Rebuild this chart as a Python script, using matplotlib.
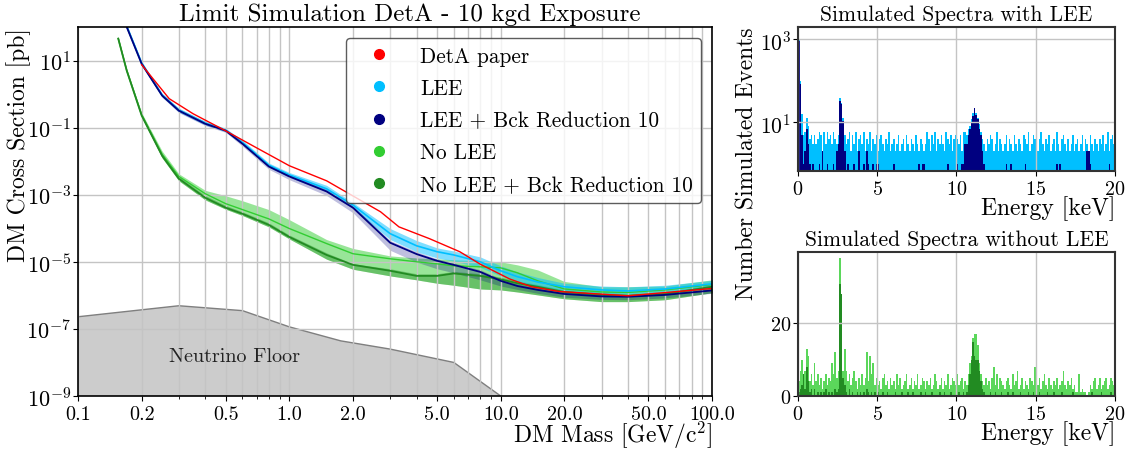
import numpy as np
import matplotlib
matplotlib.use('Agg')
import matplotlib.pyplot as plt
from matplotlib.ticker import FixedLocator, NullLocator, FuncFormatter, NullFormatter, LogLocator
from matplotlib.lines import Line2D

plt.rcParams['font.family'] = ['cmr10']
plt.rcParams['mathtext.fontset'] = 'cm'
plt.rcParams['axes.formatter.use_mathtext'] = True

# ---------------- Limit curves (DM mass in GeV/c^2, cross-section in pb) ----------------
mass = [0.155, 0.17, 0.2, 0.25, 0.3, 0.4, 0.5, 0.6, 0.8, 1.0, 1.5, 2.0, 3.0, 4.0, 5.0,
        6.0, 8.0, 10, 12, 15, 20, 30, 40, 60, 100]

lee = [620, 105, 8.3, 0.93, 0.33, 0.135, 0.084, 0.036, 0.0076, 0.0039, 0.0015, 4.9e-4,
       6.9e-5, 3.0e-5, 2.0e-5, 1.6e-5, 1.0e-5, 5.4e-6, 3.6e-6, 2.5e-6, 1.8e-6, 1.45e-6,
       1.35e-6, 1.55e-6, 2.2e-6]
lee_hi = [720, 120, 9.5, 1.05, 0.38, 0.155, 0.095, 0.042, 0.0088, 0.0046, 1.9e-3, 5.8e-4,
          9.8e-5, 4.3e-5, 2.6e-5, 2.1e-5, 1.4e-5, 7.6e-6, 5.0e-6, 3.4e-6, 2.3e-6, 1.9e-6,
          1.8e-6, 2.0e-6, 2.8e-6]
lee_lo = [540, 92, 7.3, 0.83, 0.29, 0.12, 0.075, 0.031, 0.0066, 0.0033, 1.25e-3, 3.9e-4,
          4.6e-5, 2.0e-5, 1.3e-5, 1.05e-5, 6.8e-6, 3.8e-6, 2.6e-6, 1.85e-6, 1.4e-6, 1.15e-6,
          1.1e-6, 1.25e-6, 1.75e-6]

lee_bck = [600, 100, 8.0, 0.9, 0.32, 0.13, 0.081, 0.033, 0.0069, 0.0035, 0.00125, 4.1e-4,
           3.7e-5, 1.7e-5, 1.07e-5, 8.1e-6, 5.0e-6, 2.7e-6, 1.9e-6, 1.45e-6, 1.1e-6, 9.3e-7,
           9.1e-7, 1.03e-6, 1.4e-6]
lee_bck_hi = [690, 115, 9.2, 1.03, 0.37, 0.15, 0.093, 0.038, 0.0079, 0.004, 1.45e-3, 4.7e-4,
              4.3e-5, 2.0e-5, 1.23e-5, 9.3e-6, 5.8e-6, 3.1e-6, 2.2e-6, 1.67e-6, 1.27e-6,
              1.07e-6, 1.05e-6, 1.18e-6, 1.6e-6]
lee_bck_lo = [500, 85, 7.0, 0.8, 0.28, 0.115, 0.072, 0.028, 0.0057, 0.0028, 9.5e-4, 2.9e-4,
              2.2e-5, 9.8e-6, 6.2e-6, 4.7e-6, 2.9e-6, 1.9e-6, 1.5e-6, 1.15e-6, 8.8e-7,
              7.6e-7, 7.4e-7, 8.4e-7, 1.15e-6]

nolee = [45, 5.0, 0.24, 0.016, 0.0035, 1.07e-3, 5.4e-4, 3.6e-4, 1.9e-4, 9.8e-5, 3.5e-5,
         1.74e-5, 1.23e-5, 1.0e-5, 8.7e-6, 7.6e-6, 7.1e-6, 6.6e-6, 4.7e-6, 2.7e-6, 1.55e-6,
         1.26e-6, 1.22e-6, 1.45e-6, 2.1e-6]
nolee_hi = [50, 5.6, 0.28, 0.02, 0.0042, 1.35e-3, 9.3e-4, 6.6e-4, 3.6e-4, 1.8e-4, 4.6e-5,
            2.5e-5, 1.5e-5, 1.3e-5, 1.23e-5, 1.15e-5, 1.07e-5, 1.0e-5, 8.1e-6, 5.7e-6,
            2.6e-6, 1.8e-6, 1.8e-6, 1.9e-6, 2.9e-6]
nolee_lo = [40, 4.4, 0.2, 0.0125, 0.0026, 7.0e-4, 3.7e-4, 2.4e-4, 1.1e-4, 4.8e-5, 1.2e-5,
            6.0e-6, 3.8e-6, 2.9e-6, 2.3e-6, 2.0e-6, 1.55e-6, 1.45e-6, 1.26e-6, 1.03e-6,
            7.9e-7, 6.5e-7, 6.5e-7, 7.4e-7, 1.2e-6]

nolee_bck = [45, 5.0, 0.23, 0.0145, 0.003, 8.1e-4, 4.1e-4, 2.7e-4, 1.26e-4, 5.5e-5, 1.6e-5,
             8.1e-6, 5.4e-6, 3.8e-6, 3.8e-6, 4.5e-6, 3.8e-6, 3.0e-6, 2.3e-6, 1.8e-6, 1.26e-6,
             1.03e-6, 9.7e-7, 1.1e-6, 1.8e-6]
nolee_bck_hi = [52, 5.8, 0.26, 0.017, 0.0035, 9.5e-4, 4.8e-4, 3.1e-4, 1.45e-4, 6.3e-5,
                1.85e-5, 8.8e-6, 6.2e-6, 4.4e-6, 4.4e-6, 5.2e-6, 4.4e-6, 3.5e-6, 2.7e-6,
                2.1e-6, 1.45e-6, 1.2e-6, 1.12e-6, 1.27e-6, 2.1e-6]
nolee_bck_lo = nolee_lo

paper_mass = [0.2, 0.27, 0.35, 0.5, 0.67, 1.0, 1.5, 2.7, 3.3, 4.6, 6.4, 8.0, 11, 14, 19, 40, 100]
paper_xs = [7.5, 0.73, 0.26, 0.08, 0.029, 0.0073, 0.0026, 3.1e-4, 1.1e-4, 4.9e-5, 2.0e-5,
            8.5e-6, 3.1e-6, 1.8e-6, 1.3e-6, 9.7e-7, 1.6e-6]

nu_mass = [0.1, 0.3, 0.6, 1.0, 1.75, 3.0, 6.0, 10.0]
nu_xs = [2.3e-7, 4.9e-7, 3.5e-7, 1.15e-7, 4.4e-8, 2.5e-8, 1.0e-8, 1.0e-9]

legend_labels = ['DetA paper', 'LEE', 'LEE + Bck Reduction 10', 'No LEE',
                 'No LEE + Bck Reduction 10']
legend_colors = ['red', 'deepskyblue', 'navy', 'limegreen', 'forestgreen']

x_ticks = [0.1, 0.2, 0.5, 1.0, 2.0, 5.0, 10.0, 20.0, 50.0, 100.0]
y_ticks = [1e-9, 1e-7, 1e-5, 1e-3, 1e-1, 1e1]

# ---------------- Simulated spectra (0.1 keV bins, 0-20 keV) ----------------
bin_width = 0.1
spec_lee_all = [
    950, 100, 16, 5, 6, 13, 8, 4, 5, 3,
    5, 3, 4, 6, 5, 2, 6, 3, 6, 4,
    5, 3, 6, 4, 3, 5, 38, 30, 13, 5,
    3, 4, 6, 2, 5, 3, 6, 2, 4, 5,
    3, 6, 2, 4, 3, 6, 2, 4, 3, 5,
    2, 4, 5, 3, 2, 4, 3, 6, 2, 3,
    4, 2, 3, 5, 2, 3, 4, 2, 5, 3,
    2, 4, 3, 2, 5, 3, 2, 4, 3, 2,
    3, 6, 4, 2, 5, 3, 6, 2, 4, 3,
    5, 3, 2, 6, 4, 3, 5, 2, 4, 5,
    4, 3, 5, 2, 6, 6, 5, 7, 8, 12,
    17, 20, 17, 13, 9, 6, 4, 3, 2, 4,
    3, 5, 4, 2, 3, 6, 2, 4, 3, 2,
    3, 5, 2, 4, 3, 2, 5, 3, 2, 4,
    3, 2, 5, 4, 3, 6, 2, 3, 5, 4,
    3, 2, 4, 6, 3, 2, 4, 3, 5, 2,
    3, 4, 2, 6, 3, 2, 4, 5, 3, 2,
    4, 2, 3, 5, 2, 3, 4, 2, 3, 5,
    2, 4, 3, 2, 5, 3, 2, 4, 3, 2,
    4, 3, 5, 2, 3, 6, 2, 4, 5, 3]
spec_lee_bck = [
    900, 85, 5, 1, 2, 7, 3, 1, 0, 1,
    0, 0, 0, 1, 0, 2, 0, 0, 1, 0,
    0, 0, 1, 0, 2, 3, 32, 28, 11, 2,
    0, 1, 0, 0, 0, 1, 0, 0, 2, 0,
    0, 1, 0, 2, 1, 0, 0, 1, 0, 1,
    1, 0, 0, 0, 0, 0, 0, 0, 0, 0,
    1, 0, 0, 0, 0, 0, 0, 0, 0, 0,
    0, 0, 0, 0, 0, 0, 1, 0, 1, 1,
    0, 0, 0, 0, 0, 0, 0, 0, 0, 0,
    0, 0, 0, 0, 1, 0, 0, 0, 0, 0,
    1, 0, 0, 1, 1, 3, 3, 5, 7, 10,
    14, 22, 15, 12, 7, 5, 2, 1, 0, 0,
    0, 0, 0, 0, 0, 0, 0, 0, 0, 0,
    0, 1, 0, 0, 1, 0, 0, 0, 0, 0,
    0, 0, 0, 1, 0, 0, 0, 0, 0, 0,
    0, 0, 0, 0, 0, 0, 0, 0, 0, 0,
    0, 0, 0, 1, 0, 1, 0, 0, 0, 0,
    0, 0, 0, 0, 0, 0, 0, 0, 0, 0,
    0, 0, 2, 2, 1, 0, 0, 0, 0, 0,
    0, 0, 0, 0, 0, 0, 1, 0, 0, 0]
spec_nolee_all = [
    4, 7, 10, 5, 7, 13, 11, 4, 6, 3,
    9, 4, 6, 3, 5, 2, 4, 6, 3, 5,
    4, 9, 6, 12, 5, 7, 38, 28, 7, 13,
    7, 4, 6, 3, 5, 7, 4, 2, 5, 3,
    6, 3, 5, 12, 4, 11, 6, 9, 3, 5,
    3, 4, 2, 5, 6, 3, 4, 2, 5, 3,
    4, 2, 6, 3, 5, 2, 3, 4, 6, 2,
    3, 5, 2, 4, 3, 6, 2, 3, 5, 4,
    2, 4, 3, 5, 2, 3, 6, 4, 2, 3,
    5, 2, 4, 3, 6, 2, 3, 5, 4, 3,
    6, 3, 4, 5, 2, 4, 3, 6, 9, 11,
    16, 17, 17, 14, 9, 6, 4, 3, 5, 3,
    4, 2, 5, 8, 3, 6, 2, 5, 4, 3,
    2, 4, 5, 3, 2, 6, 3, 4, 7, 2,
    3, 5, 2, 4, 3, 2, 5, 4, 3, 8,
    8, 3, 5, 2, 4, 6, 3, 2, 5, 3,
    2, 4, 3, 5, 2, 3, 4, 7, 3, 2,
    4, 3, 5, 2, 3, 1, 1, 6, 1, 2,
    1, 1, 0, 1, 3, 2, 4, 5, 2, 3,
    5, 2, 3, 4, 5, 2, 3, 5, 4, 3]
spec_nolee_bck = [
    1, 2, 3, 6, 2, 8, 4, 1, 2, 0,
    2, 0, 1, 0, 1, 0, 1, 2, 0, 1,
    0, 1, 0, 2, 1, 2, 31, 28, 5, 3,
    1, 0, 2, 0, 1, 0, 0, 1, 0, 1,
    0, 1, 0, 2, 1, 0, 1, 0, 1, 0,
    1, 0, 0, 1, 0, 0, 1, 0, 0, 0,
    0, 1, 0, 0, 0, 1, 0, 0, 0, 1,
    0, 0, 1, 0, 0, 0, 0, 1, 0, 0,
    1, 0, 0, 0, 1, 0, 0, 0, 0, 1,
    0, 0, 1, 0, 0, 0, 1, 0, 0, 0,
    0, 1, 0, 0, 1, 0, 1, 3, 6, 10,
    15, 11, 10, 10, 7, 4, 2, 1, 0, 0,
    0, 1, 0, 0, 1, 0, 0, 0, 1, 0,
    0, 0, 1, 0, 0, 1, 0, 0, 0, 0,
    1, 0, 0, 0, 0, 1, 0, 0, 1, 0,
    0, 0, 1, 0, 0, 0, 0, 1, 0, 0,
    0, 1, 0, 0, 0, 0, 1, 0, 0, 0,
    0, 0, 0, 1, 0, 0, 0, 0, 0, 0,
    0, 0, 0, 0, 0, 1, 0, 0, 0, 0,
    0, 1, 0, 0, 0, 0, 0, 1, 0, 0]

MAIN_TITLE_FS = 18
SIDE_TITLE_FS = 15.5
LABEL_FS = 17
XTICK_FS = 14.5
YTICK_FS = 16
GRID_C = '#c4c4c4'

fig = plt.figure(figsize=(11.34, 4.52), dpi=100)

# ---------------- main limit plot ----------------
ax = fig.add_axes([0.0688, 0.1217, 0.5591, 0.8164])
ax.set_xscale('log')
ax.set_yscale('log')

ax.fill_between(nu_mass, 1e-10, nu_xs, facecolor='#cccccc', edgecolor='none', zorder=1)
ax.plot(nu_mass, nu_xs, color='#7f7f7f', lw=1, zorder=1.2)
ax.text(0.55, 1.5e-8, 'Neutrino Floor', fontsize=14.5, ha='center', va='center',
        color='#222222', zorder=3)

ax.fill_between(mass, nolee_lo, nolee_hi, color='limegreen', alpha=0.5, lw=0, zorder=1)
ax.fill_between(mass, nolee_bck_lo, nolee_bck_hi, color='forestgreen', alpha=0.4, lw=0, zorder=1)
ax.fill_between(mass, lee_lo, lee_hi, color='deepskyblue', alpha=0.5, lw=0, zorder=1)
ax.fill_between(mass, lee_bck_lo, lee_bck_hi, color='navy', alpha=0.25, lw=0, zorder=1)

ax.plot(mass, nolee, color='limegreen', lw=1.0, zorder=2)
ax.plot(mass, nolee_bck, color='forestgreen', lw=1.3, zorder=2)
ax.plot(mass, lee, color='deepskyblue', lw=1.2, zorder=2)
ax.plot(mass, lee_bck, color='navy', lw=1.3, zorder=2)
ax.plot(paper_mass, paper_xs, color='red', lw=1.0, zorder=2.1)

ax.set_xlim(0.1, 100)
ax.set_ylim(1e-9, 1e2)
ax.xaxis.set_major_locator(FixedLocator(x_ticks))
ax.xaxis.set_major_formatter(FuncFormatter(lambda v, p: f'{v:.1f}'))
ax.xaxis.set_minor_locator(LogLocator(base=10, subs=(3, 4, 6, 7, 8, 9)))
ax.xaxis.set_minor_formatter(NullFormatter())
ax.yaxis.set_major_locator(FixedLocator(y_ticks))
ax.yaxis.set_minor_locator(NullLocator())
ax.tick_params(axis='x', labelsize=XTICK_FS, pad=3)
ax.tick_params(axis='y', labelsize=YTICK_FS, pad=1.5)
ax.tick_params(which='minor', length=2)
ax.grid(True, which='both', axis='x', color=GRID_C, lw=1)
ax.grid(True, which='major', axis='y', color=GRID_C, lw=1)
for s in ax.spines.values():
    s.set_linewidth(1.2)

ax.set_title('Limit Simulation DetA - 10 kgd Exposure', fontsize=MAIN_TITLE_FS, pad=5, x=0.523)
ax.set_xlabel('DM Mass [GeV/c$^2$]', fontsize=LABEL_FS, loc='right', labelpad=-3)
ax.set_ylabel('DM Cross Section [pb]', fontsize=LABEL_FS, loc='top')
ax.yaxis.set_label_coords(-0.074, 1.0)

handles = [Line2D([], [], ls='none', marker='o', ms=7, color=c) for c in legend_colors]
leg = ax.legend(handles, legend_labels, loc='upper right', fontsize=15.3, handlelength=2.3,
                handletextpad=0.8, labelspacing=0.6, fancybox=True, framealpha=0.8,
                edgecolor='#333333')
leg.get_frame().set_linewidth(1.0)

# ---------------- spectra ----------------
edges = np.arange(len(spec_lee_all)) * bin_width

ax1 = fig.add_axes([0.7037, 0.6195, 0.2795, 0.3186])
ax1.bar(edges, spec_lee_all, width=bin_width, align='edge', color='deepskyblue', lw=0)
ax1.bar(edges, spec_lee_bck, width=bin_width, align='edge', color='navy', lw=0)
ax1.set_yscale('log')
ax1.set_xlim(0, 20)
ax1.set_ylim(0.67, 2000)
ax1.yaxis.set_major_locator(FixedLocator([10, 1000]))
ax1.yaxis.set_minor_locator(NullLocator())
ax1.xaxis.set_major_locator(FixedLocator([0, 5, 10, 15, 20]))
ax1.tick_params(axis='x', labelsize=XTICK_FS, pad=3)
ax1.tick_params(axis='y', labelsize=15.5, pad=1.5)
ax1.grid(True, color=GRID_C, lw=1)
ax1.set_title('Simulated Spectra with LEE', fontsize=SIDE_TITLE_FS, pad=5)
ax1.set_xlabel('Energy [keV]', fontsize=LABEL_FS, loc='right', labelpad=-2)
ax1.set_ylabel('Number Simulated Events', fontsize=LABEL_FS, loc='top')
ax1.yaxis.set_label_coords(-0.125, 1.0)

ax2 = fig.add_axes([0.7037, 0.1217, 0.2795, 0.3186])
ax2.bar(edges, spec_nolee_all, width=bin_width, align='edge', color='limegreen', alpha=0.8, lw=0)
ax2.bar(edges, spec_nolee_bck, width=bin_width, align='edge', color='forestgreen', lw=0)
ax2.set_xlim(0, 20)
ax2.set_ylim(0, 39.7)
ax2.yaxis.set_major_locator(FixedLocator([0, 20]))
ax2.xaxis.set_major_locator(FixedLocator([0, 5, 10, 15, 20]))
ax2.tick_params(axis='x', labelsize=XTICK_FS, pad=3)
ax2.tick_params(axis='y', labelsize=XTICK_FS, pad=1.5)
ax2.grid(True, color=GRID_C, lw=1)
ax2.set_title('Simulated Spectra without LEE', fontsize=SIDE_TITLE_FS, pad=5)
ax2.set_xlabel('Energy [keV]', fontsize=LABEL_FS, loc='right', labelpad=-2)

for a in (ax1, ax2):
    for s in a.spines.values():
        s.set_linewidth(1.5)
        s.set_color('#333333')

fig.savefig('out.png', dpi=100)
